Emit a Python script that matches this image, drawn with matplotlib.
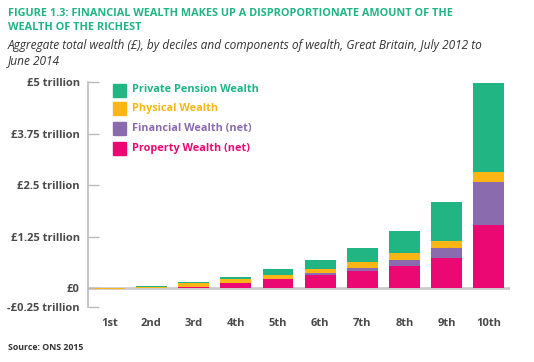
import matplotlib
matplotlib.use("Agg")
import matplotlib.pyplot as plt
import numpy as np

deciles = ["1st", "2nd", "3rd", "4th", "5th", "6th", "7th", "8th", "9th", "10th"]
property_wealth = [0.0, 0.015, 0.035, 0.12, 0.215, 0.33, 0.42, 0.54, 0.74, 1.53]
financial_wealth = [0.0, 0.0, 0.005, 0.005, 0.015, 0.05, 0.07, 0.145, 0.235, 1.04]
physical_wealth = [0.04, 0.025, 0.08, 0.09, 0.10, 0.095, 0.145, 0.17, 0.17, 0.25]
pension_wealth = [0.0, 0.025, 0.025, 0.07, 0.145, 0.215, 0.34, 0.53, 0.945, 2.16]

series_names = ["Private Pension Wealth", "Physical Wealth", "Financial Wealth (net)", "Property Wealth (net)"]
ytick_values = [-0.445, 0, 1.25, 2.5, 3.75, 5]
ytick_labels = ["-£0.25 trillion", "£0", "£1.25 trillion", "£2.5 trillion", "£3.75 trillion", "£5 trillion"]

c_green = "#20b582"
c_orange = "#fbb616"
c_purple = "#8a6bad"
c_pink = "#ec0873"
c_text = "#4a4a4a"

plt.rcParams['font.family'] = ['Open Sans', 'DejaVu Sans']

fig = plt.figure(figsize=(5.34, 3.62), dpi=100)
ax = fig.add_axes([0.165, 0.1528, 0.79, 0.6199])

x = np.arange(len(deciles))
w = 0.73
b1 = np.array(property_wealth)
b2 = b1 + np.array(financial_wealth)
b3 = b2 + np.array(physical_wealth)

ax.axhline(0, color="#cccccc", lw=2, zorder=1)

ax.bar(x, property_wealth, w, color=c_pink, zorder=2)
ax.bar(x, financial_wealth, w, bottom=b1, color=c_purple, zorder=2)
ax.bar(x, physical_wealth, w, bottom=b2 - np.where(b2 == 0, 0.02, 0), color=c_orange, zorder=3)
ax.bar(x, pension_wealth, w, bottom=b3, color=c_green, zorder=2)

ax.set_xlim(-0.5, 9.5)
ax.set_ylim(-0.445, 5)
ax.set_yticks(ytick_values)
ax.set_yticklabels(ytick_labels, fontsize=8, fontweight='bold', color=c_text)
ax.set_xticks(x)
ax.set_xticklabels(deciles, fontsize=8, fontweight='bold', color=c_text)
ax.tick_params(axis='y', direction='in', length=8, width=1, color="#bbbbbb", pad=6)
ax.tick_params(axis='x', length=0, pad=8)
for s in ["top", "right", "bottom"]:
    ax.spines[s].set_visible(False)
ax.spines["left"].set_color("#bbbbbb")
ax.spines["left"].set_linewidth(1.2)

# legend
leg_colors = [c_green, c_orange, c_purple, c_pink]
leg_y = [90, 108, 128, 148]
for name, col, yy in zip(series_names, leg_colors, leg_y):
    fig.patches.append(plt.Rectangle((113 / 534, 1 - (yy + 6.5) / 362), 13 / 534, 13 / 362,
                                     transform=fig.transFigure, color=col, figure=fig))
    fig.text(132 / 534, 1 - yy / 362, name, color=col, fontsize=7.8, fontweight='bold',
             va='center', ha='left')

fig.text(8 / 534, 1 - 13 / 362, "FIGURE 1.3: FINANCIAL WEALTH MAKES UP A DISPROPORTIONATE AMOUNT OF THE",
         color=c_green, fontsize=7.8, fontweight='bold', va='center')
fig.text(8 / 534, 1 - 28 / 362, "WEALTH OF THE RICHEST",
         color=c_green, fontsize=7.8, fontweight='bold', va='center')
fig.text(8 / 534, 1 - 46 / 362, "Aggregate total wealth (£), by deciles and components of wealth, Great Britain, July 2012 to",
         color="#333333", fontsize=8.6, style='italic', va='center')
fig.text(8 / 534, 1 - 61 / 362, "June 2014",
         color="#333333", fontsize=8.6, style='italic', va='center')
fig.text(8 / 534, 1 - 348 / 362, "Source: ONS 2015", color="#333333", fontsize=6.3,
         fontweight='bold', va='center')

fig.savefig("out.png", dpi=100)
